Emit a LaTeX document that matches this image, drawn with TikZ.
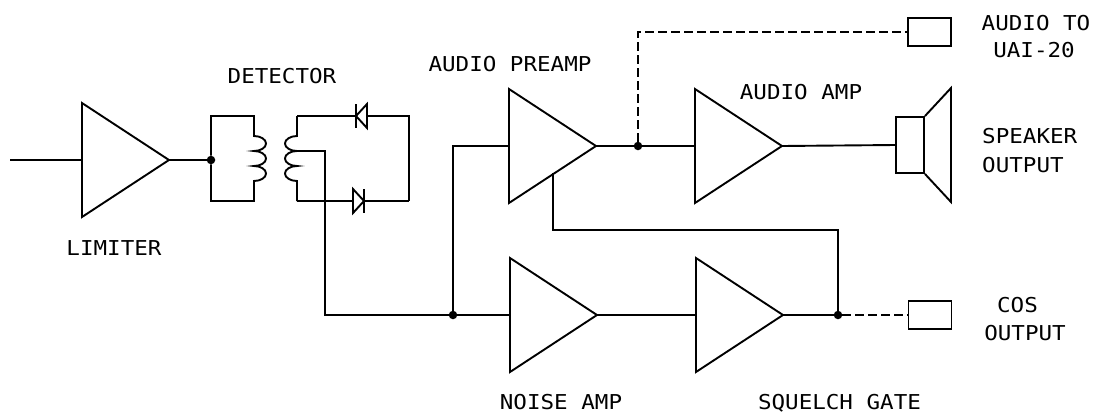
\documentclass[tikz,border=0pt]{standalone}
\usepackage{fontspec}
\setmonofont[FakeStretch=1.1]{DejaVu Sans Mono}
\usetikzlibrary{calc}
\tikzset{
  wire/.style={line width=1.9pt, line join=miter},
  dashwire/.style={line width=1.9pt, dash pattern=on 9pt off 4pt},
  lbl/.style={font=\ttfamily\fontsize{20.5pt}{22pt}\selectfont, inner sep=0pt, text height=15pt, text depth=0pt, anchor=center},
  lblw/.style={lbl, anchor=west},
  junction/.style={circle, fill=black, inner sep=0pt, minimum size=8.5pt},
  outbox/.style={draw, line width=1.9pt, minimum width=43pt, minimum height=28pt, inner sep=0pt}
}
\newcommand\amplifier[3]{%
  \coordinate (#1-in) at (#2,#3);
  \coordinate (#1-out) at (#2+87,#3);
  \draw[wire] (#2,#3-57) -- (#2,#3+57) -- (#2+87,#3) -- cycle;}
\begin{document}
\begin{tikzpicture}[x=1pt,y=-1pt]
\useasboundingbox (0,0) rectangle (1096,413);

% amplifiers
\amplifier{lim}{82}{160}
\amplifier{pre}{509}{146}
\amplifier{aamp}{695}{146}
\amplifier{namp}{510}{315}
\amplifier{sq}{696}{315}

% junctions
\node[junction] (d1) at (211,160) {};
\node[junction] (d2) at (638,146) {};
\node[junction] (d3) at (453,315) {};
\node[junction] (d4) at (838,315) {};

% input
\coordinate (in) at (10,160);
\draw[wire] (in) -- (lim-in);
\draw[wire] (lim-out) -- (d1);

% detector primary
\coordinate (p1) at (254,116);
\coordinate (p2) at (254,201);
\draw[wire] (d1) |- (p1) -- (254,136)
  arc[start angle=-90,end angle=90,x radius=12,y radius=7.5]
  arc[start angle=-90,end angle=90,x radius=12,y radius=7.5]
  arc[start angle=-90,end angle=90,x radius=12,y radius=7.5]
  -- (p2) -| (d1);

% detector secondary
\coordinate (s1) at (297,116);
\coordinate (s2) at (297,201);
\coordinate (tap) at (297,151);
\coordinate (r1) at (409,116);
\coordinate (r2) at (409,201);
\draw[wire] (s1) -- (297,136)
  arc[start angle=-90,end angle=-270,x radius=12,y radius=7.5]
  arc[start angle=-90,end angle=-270,x radius=12,y radius=7.5]
  arc[start angle=-90,end angle=-270,x radius=12,y radius=7.5]
  -- (s2);
% top diode (pointing left)
\coordinate (dt1) at (356,116);
\coordinate (dt2) at (367,116);
\draw[wire] (s1) -- (dt1);
\draw[wire] (dt2) -- (r1) -- (r2);
\draw[wire] (356,104) -- (356,128);
\draw[wire] (dt1) -- (367,104) -- (367,128) -- cycle;
% bottom diode (pointing right)
\coordinate (db1) at (353,201);
\coordinate (db2) at (364,201);
\draw[wire] (s2) -- (db1);
\draw[wire] (db2) -- (r2);
\draw[wire] (364,189) -- (364,213);
\draw[wire] (db2) -- (353,189) -- (353,213) -- cycle;

% centre tap to noise path
\draw[wire] (tap) -| (325,315) -- (d3);
\draw[wire] (d3) -- (namp-in);
\draw[wire] (d3) |- (pre-in);
\draw[wire] (namp-out) -- (sq-in);
\draw[wire] (sq-out) -- (d4);

% preamp outputs
\draw[wire] (pre-out) -- (d2) -- (aamp-in);
\coordinate (fb) at (553,173);
\draw[wire] (fb) |- (838,230) -- (d4);

% audio to UAI-20
\node[outbox] (uai) at (929.5,32) {};
\draw[dashwire] (d2) |- (uai.west);

% COS output
\node[outbox] (cos) at (930,315) {};
\draw[dashwire] (d4) -- (cos.west);

% speaker
\node[draw, line width=1.9pt, minimum width=28pt, minimum height=56pt, inner sep=0pt] (spk) at (910,145) {};
\draw[wire] (aamp-out) -- (spk.west);
\draw[wire] (spk.north east) -- (951,88) -- (951,202) -- (spk.south east);

% labels
\node[lbl] (tlim) at (114,247.5) {LIMITER};
\node[lbl] (tdet) at (282,75.5) {DETECTOR};
\node[lbl] (tpre) at (510,63.5) {AUDIO PREAMP};
\node[lbl] (taamp) at (801,92) {AUDIO AMP};
\node[lbl] (tuai1) at (1036,22.5) {AUDIO TO};
\node[lbl] (tuai2) at (1034,49.5) {UAI-20};
\node[lblw] (tspk1) at (982,135.5) {SPEAKER};
\node[lblw] (tspk2) at (982,164.5) {OUTPUT};
\node[lbl] (tcos1) at (1017.5,304.5) {COS};
\node[lbl] (tcos2) at (1025,332.5) {OUTPUT};
\node[lbl] (tnamp) at (561,402) {NOISE AMP};
\node[lbl] (tsq) at (839.5,402) {SQUELCH GATE};
\end{tikzpicture}
\end{document}
